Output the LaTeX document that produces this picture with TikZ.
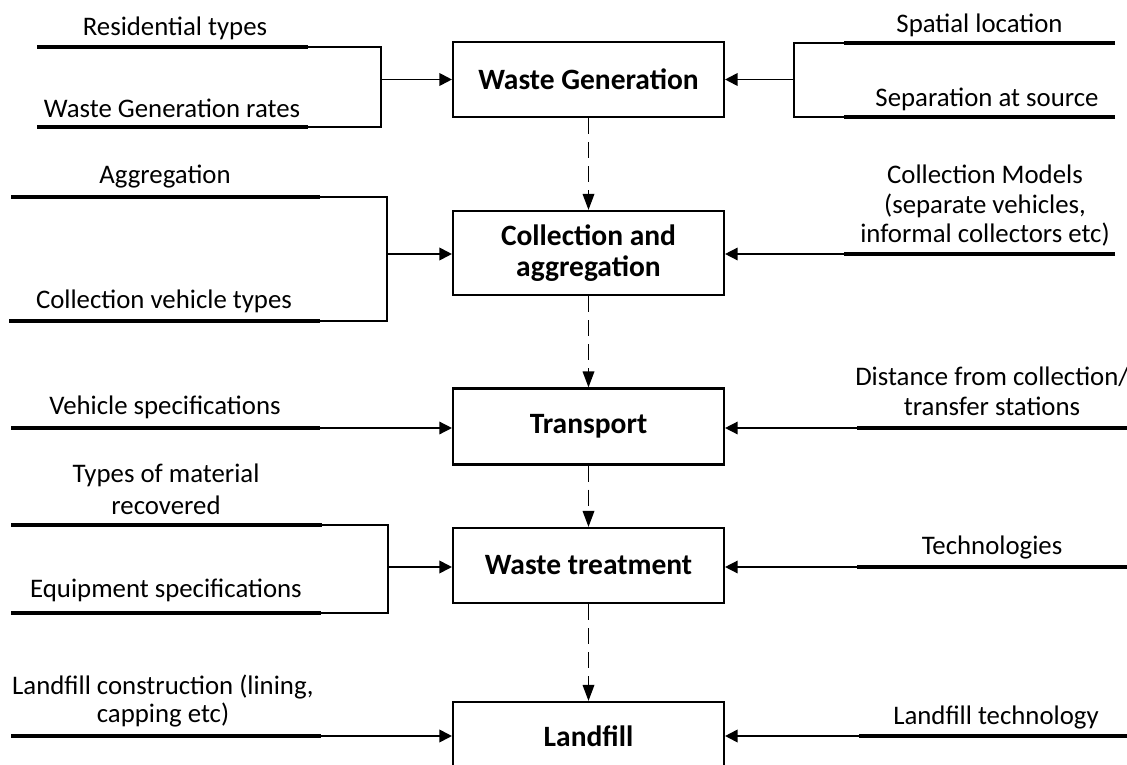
\documentclass[tikz,border=0pt]{standalone}
\usepackage{fontspec}
\setmainfont{Carlito}
\usetikzlibrary{arrows.meta}
\newcommand\mylbl{\fontsize{26.8}{30}\selectfont}
\newcommand\mybox{\fontsize{29.5}{31}\selectfont\bfseries}
\tikzset{
  box/.style={draw, line width=2.1pt, minimum width=271pt, inner sep=0pt, font=\mybox, align=center},
  feed/.style={line width=4.3pt},
  link/.style={line width=1.4pt},
  arr/.style={line width=1.9pt, -{Triangle[length=12.5pt,width=12.5pt]}},
  flow/.style={line width=1.8pt, dash pattern=on 16pt off 8pt, -{Triangle[length=16pt,width=11.5pt]}},
  lbl/.style={font=\mylbl, align=center, inner sep=0pt},
}
\begin{document}
\begin{tikzpicture}[x=1pt,y=-1pt]
\useasboundingbox (0,0) rectangle (1127,765);
\clip (0,0) rectangle (1127,765);
% boxes
\node[box, minimum height=75pt] (b1) at (588.5,79.5) {Waste Generation};
\node[box, minimum height=84pt] (b2) at (588.5,253) {Collection and\\aggregation};
\node[box, minimum height=76pt] (b3) at (588.5,426.5) {Transport};
\node[box, minimum height=75pt] (b4) at (588.5,565.5) {Waste treatment};
\node[box, minimum height=68pt] (b5) at (588.5,736) {\raisebox{-3pt}{Landfill}};
% flow
\draw[flow] (b1.south) -- (b2.north);
\draw[flow] (b2.south) -- (b3.north);
\draw[flow] (b3.south) -- (b4.north);
\draw[flow] (b4.south) -- (b5.north);

% ---- Waste Generation, left
\node[lbl] (t1) at (175,28) {Residential types};
\node[lbl] (t2) at (172,108) {Waste Generation rates};
\coordinate (a1s) at (37,47); \coordinate (a1e) at (308,47);
\coordinate (a2s) at (37,127); \coordinate (a2e) at (308,127);
\coordinate (k1a) at (381,47); \coordinate (k1b) at (381,127); \coordinate (k1) at (381,79.5);
\draw[feed] (a1s) -- (a1e);
\draw[feed] (a2s) -- (a2e);
\draw[link] (a1e) -- (k1a) -- (k1b) -- (a2e);
\draw[arr] (k1) -- (k1 -| b1.west);
% ---- Waste Generation, right
\node[lbl] (t3) at (979.5,25) {Spatial location};
\node[lbl] (t4) at (987,99) {Separation at source};
\coordinate (a3s) at (1115,43); \coordinate (a3e) at (844,43);
\coordinate (a4s) at (1115,117); \coordinate (a4e) at (844,117);
\coordinate (k2a) at (794,43); \coordinate (k2b) at (794,117); \coordinate (k2) at (794,79.5);
\draw[feed] (a3s) -- (a3e);
\draw[feed] (a4s) -- (a4e);
\draw[link] (a3e) -- (k2a) -- (k2b) -- (a4e);
\draw[arr] (k2) -- (k2 -| b1.east);

% ---- Collection, left
\node[lbl] (t5) at (165,177) {Aggregation};
\node[lbl] (t6) at (164,301) {Collection vehicle types};
\coordinate (a5s) at (11,197); \coordinate (a5e) at (320,197);
\coordinate (a6s) at (9,321); \coordinate (a6e) at (320,321);
\coordinate (k3a) at (387,197); \coordinate (k3b) at (387,321); \coordinate (k3) at (387,254);
\draw[feed] (a5s) -- (a5e);
\draw[feed] (a6s) -- (a6e);
\draw[link] (a5e) -- (k3a) -- (k3b) -- (a6e);
\draw[arr] (k3) -- (k3 -| b2.west);
% ---- Collection, right
\node[lbl, font=\fontsize{26.8}{29.5}\selectfont] (t7) at (985,206) {Collection Models\\(separate vehicles,\\informal collectors etc)};
\coordinate (a7s) at (1115,254); \coordinate (a7e) at (844,254);
\draw[feed] (a7s) -- (a7e);
\draw[arr, line width=1.4pt] (a7e) -- (a7e -| b2.east);

% ---- Transport
\node[lbl] (t8) at (165,407) {Vehicle specifications};
\coordinate (a8s) at (11,428); \coordinate (a8e) at (320,428);
\draw[feed] (a8s) -- (a8e);
\draw[arr, line width=1.4pt] (a8e) -- (a8e -| b3.west);
\node[lbl] (t9) at (992,391) {Distance from collection/\\transfer stations};
\coordinate (a9s) at (1127,428); \coordinate (a9e) at (857,428);
\draw[feed] (a9s) -- (a9e);
\draw[arr, line width=1.4pt] (a9e) -- (a9e -| b3.east);

% ---- Waste treatment
\node[lbl, font=\fontsize{26.8}{32}\selectfont] (t10) at (166,489) {Types of material\\recovered};
\node[lbl] (t11) at (166,590) {Equipment specifications};
\coordinate (a10s) at (11,525); \coordinate (a10e) at (322,525);
\coordinate (a11s) at (11,613); \coordinate (a11e) at (321,613);
\coordinate (k4a) at (388,525); \coordinate (k4b) at (388,613); \coordinate (k4) at (388,567);
\draw[feed] (a10s) -- (a10e);
\draw[feed] (a11s) -- (a11e);
\draw[link] (a10e) -- (k4a) -- (k4b) -- (a11e);
\draw[arr] (k4) -- (k4 -| b4.west);
\node[lbl] (t12) at (992,547) {Technologies};
\coordinate (a12s) at (1127,567); \coordinate (a12e) at (857,567);
\draw[feed] (a12s) -- (a12e);
\draw[arr, line width=1.4pt] (a12e) -- (a12e -| b4.east);

% ---- Landfill
\node[lbl, font=\fontsize{26.8}{28}\selectfont] (t13) at (163,701) {Landfill construction (lining,\\capping etc)};
\coordinate (a13s) at (11,736); \coordinate (a13e) at (321,736);
\draw[feed] (a13s) -- (a13e);
\draw[arr] (a13e) -- (a13e -| b5.west);
\node[lbl] (t14) at (996,717) {Landfill technology};
\coordinate (a14s) at (1127,736); \coordinate (a14e) at (859,736);
\draw[feed] (a14s) -- (a14e);
\draw[arr] (a14e) -- (a14e -| b5.east);
\end{tikzpicture}
\end{document}
